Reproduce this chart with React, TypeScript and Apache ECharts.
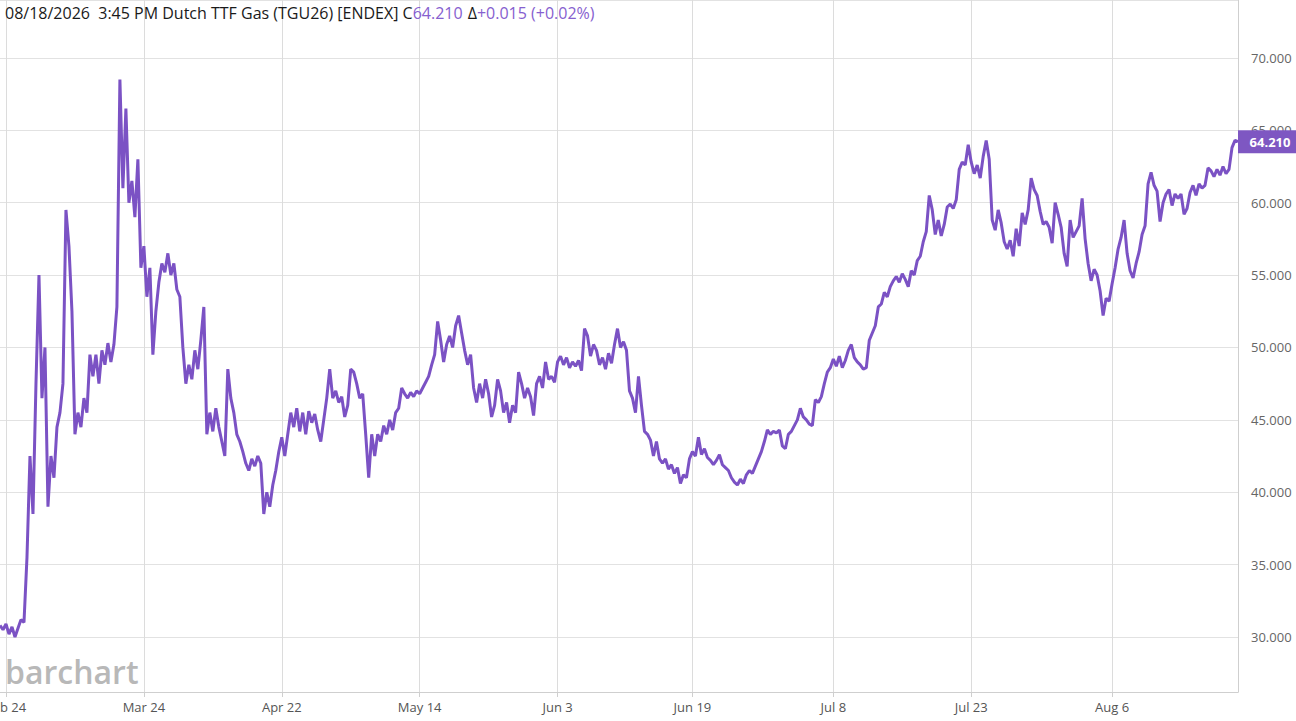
import React, { useEffect, useRef } from "react";
import * as echarts from "echarts";

// Price series (one point per bar)
const prices: number[] = [
  30.8, 30.5, 30.9, 30.2, 30.7, 30.0, 30.6, 31.2, 31.0, 35.5,
  42.5, 38.5, 47.5, 55.0, 46.5, 50.0, 39.0, 42.5, 41.0, 44.5,
  45.5, 47.5, 59.5, 57.0, 52.5, 44.0, 45.5, 44.5, 46.5, 45.5,
  49.5, 48.0, 49.5, 47.5, 49.8, 48.8, 50.3, 49.0, 50.2, 52.8,
  68.5, 61.0, 66.5, 60.0, 61.5, 59.0, 63.0, 55.5, 57.0, 53.5,
  55.5, 49.5, 52.5, 54.5, 55.8, 55.2, 56.5, 55.0, 55.8, 54.0,
  53.5, 50.0, 47.5, 48.8, 47.8, 49.8, 48.5, 50.5, 52.8, 44.0,
  45.5, 44.2, 45.8, 44.5, 43.5, 42.5, 48.5, 46.5, 45.5, 44.0,
  43.5, 42.8, 42.0, 41.5, 42.3, 41.8, 42.5, 42.0, 38.5, 40.0,
  39.0, 40.5, 41.5, 42.8, 43.8, 42.5, 44.0, 45.5, 44.5, 45.8,
  44.2, 45.5, 44.0, 45.6, 44.8, 45.4, 44.3, 43.5, 45.0, 46.5,
  48.5, 46.5, 47.0, 46.2, 46.6, 45.2, 46.0, 48.5, 48.3, 47.5,
  46.5, 46.8, 44.0, 41.0, 44.0, 42.5, 44.0, 43.5, 44.6, 44.0,
  45.0, 44.3, 45.5, 45.8, 47.2, 46.8, 46.5, 46.9, 46.6, 47.0,
  46.8, 47.2, 47.6, 48.0, 48.8, 49.5, 51.8, 50.5, 49.0, 50.2,
  50.8, 50.0, 51.5, 52.2, 51.0, 49.8, 48.8, 49.5, 47.2, 46.2,
  47.5, 46.5, 47.8, 46.8, 45.2, 46.0, 47.8, 47.0, 45.5, 46.2,
  44.8, 46.0, 45.5, 48.3, 47.5, 46.5, 47.2, 46.6, 45.3, 47.5,
  48.0, 47.2, 49.0, 47.8, 48.0, 47.6, 49.0, 49.4, 48.8, 49.3,
  48.6, 49.0, 48.7, 49.1, 48.4, 51.3, 50.8, 49.4, 50.2, 49.8,
  48.8, 49.3, 48.5, 49.6, 48.9, 50.2, 51.3, 50.0, 50.4, 49.8,
  47.0, 46.5, 45.5, 48.0, 46.0, 44.2, 44.0, 43.6, 42.5, 43.5,
  42.3, 42.0, 42.3, 41.6, 41.9, 41.3, 41.7, 40.6, 41.2, 41.0,
  42.3, 42.8, 42.5, 43.8, 42.6, 43.0, 42.4, 42.2, 41.9, 42.2,
  42.6, 41.9, 41.7, 41.5, 41.0, 40.7, 40.5, 40.9, 40.6, 41.2,
  41.5, 41.3, 41.8, 42.3, 42.8, 43.5, 44.3, 44.0, 44.2, 44.1,
  44.3, 43.2, 43.0, 44.0, 44.2, 44.6, 45.0, 45.8, 45.2, 45.0,
  44.7, 44.6, 46.4, 46.2, 46.6, 47.5, 48.3, 48.6, 49.2, 48.7,
  49.4, 48.6, 49.1, 49.8, 50.2, 49.3, 49.0, 48.8, 48.5, 48.6,
  50.5, 51.0, 51.5, 52.8, 53.0, 53.8, 53.5, 54.2, 54.6, 54.9,
  54.5, 55.1, 54.7, 54.2, 55.3, 55.0, 56.0, 56.3, 57.3, 58.0,
  60.5, 59.5, 57.8, 58.8, 57.7, 58.5, 59.7, 59.9, 59.6, 60.2,
  62.3, 62.8, 62.6, 64.0, 62.8, 62.0, 62.6, 61.7, 63.2, 64.3,
  63.0, 58.8, 58.1, 59.5, 58.6, 57.3, 56.8, 57.4, 56.3, 58.2,
  57.0, 59.3, 58.5, 59.5, 61.7, 60.9, 60.5, 59.4, 58.5, 58.7,
  58.3, 57.2, 60.0, 59.2, 58.3, 56.5, 55.6, 58.8, 57.6, 58.0,
  58.4, 60.3, 57.5, 55.8, 54.6, 55.4, 55.0, 53.9, 52.2, 53.4,
  53.2, 54.4, 55.5, 56.8, 57.6, 58.8, 56.5, 55.3, 54.8, 55.8,
  56.6, 57.8, 58.4, 61.3, 62.1, 61.2, 60.8, 58.7, 60.0, 60.6,
  60.9, 59.8, 60.6, 60.3, 60.6, 59.2, 59.6, 60.7, 61.2, 60.5,
  61.3, 61.0, 61.2, 62.4, 62.2, 61.8, 62.3, 61.9, 62.5, 62.0,
  62.3, 63.8, 64.3, 64.21,
];

// X-axis tick labels and the bar index where each date starts
const tickLabels: string[] = ["Feb 24", "Mar 24", "Apr 22", "May 14", "Jun 3", "Jun 19", "Jul 8", "Jul 23", "Aug 6"];
const tickIndex: number[] = [2, 48, 94, 140, 186, 231, 278, 324, 371];

// Header values
const headerLabel = "08/18/2026  3:45 PM Dutch TTF Gas (TGU26) [ENDEX]";
const change = 0.015;
const changePct = 0.02;

const categories: string[] = prices.map((_, i) => {
  const k = tickIndex.indexOf(i);
  return k >= 0 ? tickLabels[k] : String(i);
});

const FONT = '"Open Sans", "Noto Sans", sans-serif';
const PURPLE = "#7b52c4";
const PURPLE_TEXT = "#8660cf";

export default function App() {
  const ref = useRef<HTMLDivElement>(null);

  useEffect(() => {
    if (!ref.current) return;
    const chart = echarts.init(ref.current, undefined, { renderer: "svg" });
    const last = prices[prices.length - 1];
    const isTick = (idx: number) => tickIndex.indexOf(idx) >= 0;

    chart.setOption({
      animation: false,
      backgroundColor: "#fff",
      title: {
        left: 5,
        top: 4,
        padding: 0,
        text: `{k|${headerLabel} C}{v|${last.toFixed(3)}} {k|Δ}{v|+${change.toFixed(3)} (+${changePct.toFixed(2)}%)}`,
        textStyle: {
          fontWeight: "normal",
          rich: {
            k: { color: "#1a1a1a", fontSize: 16, fontFamily: FONT, fontWeight: "normal" },
            v: { color: PURPLE_TEXT, fontSize: 16, fontFamily: FONT, fontWeight: "normal" },
          },
        },
      },
      graphic: [
        {
          type: "text",
          left: 5,
          top: 655,
          z: 0,
          style: {
            text: "barchart",
            fill: "#b8b8b8",
            font: `600 32px ${FONT}`,
          },
        },
      ],
      grid: { left: 0, right: 58, top: 0, bottom: 29, containLabel: false, outerBoundsMode: "none" },
      xAxis: {
        type: "category",
        boundaryGap: false,
        data: categories,
        axisLine: { show: true, lineStyle: { color: "#cfcfcf", width: 1 } },
        axisTick: { show: true, length: 5, interval: (i: number) => isTick(i), lineStyle: { color: "#cfcfcf" } },
        axisLabel: {
          interval: (i: number) => isTick(i),
          color: "#555",
          fontSize: 13,
          fontFamily: FONT,
          margin: 8,
          hideOverlap: false,
        },
        splitLine: { show: true, interval: (i: number) => isTick(i), lineStyle: { color: "#dcdcdc", width: 1 } },
      },
      yAxis: {
        type: "value",
        position: "right",
        min: 26.2,
        max: 74.0,
        splitNumber: 10,
        axisLine: { show: true, lineStyle: { color: "#cfcfcf" } },
        axisTick: { show: false },
        axisLabel: {
          color: "#666",
          fontSize: 13,
          fontFamily: FONT,
          margin: 13,
          formatter: (v: number) => (Math.abs(v / 5 - Math.round(v / 5)) < 1e-6 ? v.toFixed(3) : ""),
        },
        splitLine: { show: true, lineStyle: { color: "#e2e2e2", width: 1 } },
      },
      series: [
        {
          type: "line",
          data: prices,
          showSymbol: false,
          symbol: "none",
          lineStyle: { color: PURPLE, width: 3 },
          itemStyle: { color: PURPLE },
          z: 3,
          markPoint: {
            symbol: "rect",
            symbolSize: [58, 23],
            symbolOffset: [29, 0],
            itemStyle: { color: "#7e57c2" },
            label: {
              show: true,
              position: "inside",
              color: "#fff",
              fontWeight: "bold",
              fontSize: 13,
              fontFamily: FONT,
              offset: [3, 0],
              formatter: () => last.toFixed(3),
            },
            data: [{ coord: [prices.length - 1, last], value: last }],
          },
        },
      ],
    });

    return () => chart.dispose();
  }, []);

  return (
    <div
      ref={ref}
      style={{ position: "fixed", left: 0, top: 0, width: 1296, height: 721, background: "#fff" }}
    />
  );
}
